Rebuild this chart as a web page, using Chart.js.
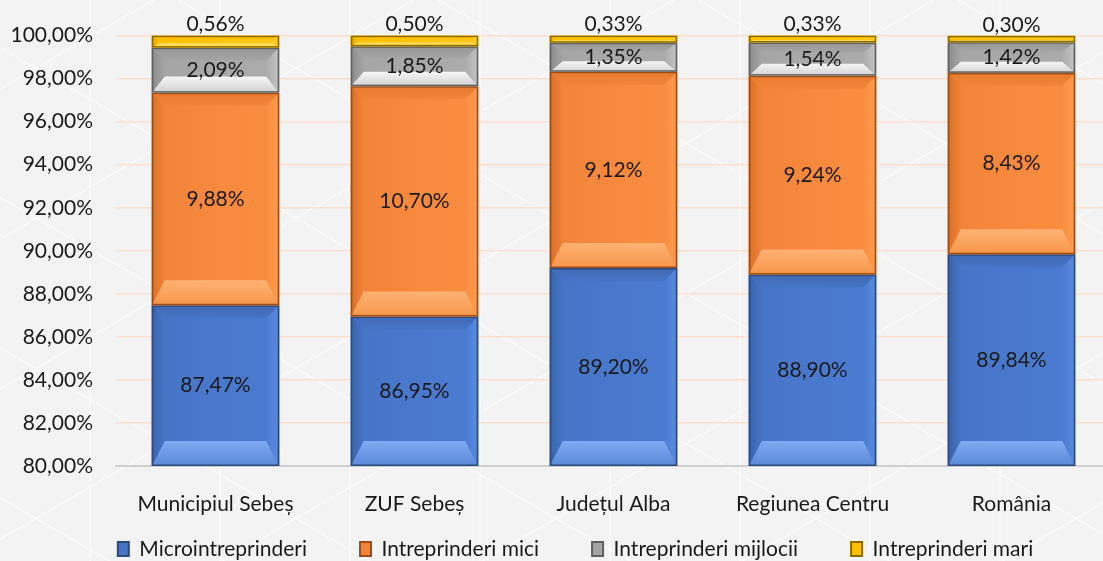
<!DOCTYPE html>
<html>
<head>
<meta charset="utf-8">
<script src="https://cdn.jsdelivr.net/npm/chart.js@4"></script>
<style>
  html, body { margin: 0; padding: 0; overflow: hidden; background: #f3f3f3; }
  #wrap { width: 1112px; height: 600px; }
</style>
</head>
<body>
<div id="wrap"><canvas id="chart"></canvas></div>
<script>
const categories = ['Municipiul Sebeș', 'ZUF Sebeș', 'Județul Alba', 'Regiunea Centru', 'România'];
const micro = [87.47, 86.95, 89.20, 88.90, 89.84];
const mici = [9.88, 10.70, 9.12, 9.24, 8.43];
const mijlocii = [2.09, 1.85, 1.35, 1.54, 1.42];
const mari = [0.56, 0.50, 0.33, 0.33, 0.30];
const seriesNames = ['Microintreprinderi', 'Intreprinderi mici', 'Intreprinderi mijlocii', 'Intreprinderi mari'];

const FONT = 'Lato, "Open Sans", sans-serif';
const FSIZE = 21;
const LEGEND_PAD = 53;

// bevel palettes per series
const palettes = [
    { face: '#4674c6', face2: '#4b7cd3', top: '#4169b4', botLight: '#80aaf2', bot: '#5a88d8', left: '#3a62ab', right: '#5b8bdf', edge: '#2b4b80' },
    { face: '#f2843a', face2: '#fa8e40', top: '#e87a2e', botLight: '#ffb273', bot: '#f6964b', left: '#d96f25', right: '#ff9b50', edge: '#9b4d15' },
    { face: '#a5a5a5', face2: '#acacac', top: '#969696', botLight: '#f6f6f6', bot: '#d2d2d2', left: '#8a8a8a', right: '#c4c4c4', edge: '#606060' },
    { face: '#ffc000', face2: '#ffc81a', top: '#eeae00', botLight: '#ffe066', bot: '#ffd23a', left: '#d9a300', right: '#ffd030', edge: '#8a6a00' }
];

function fmt(v) {
    return v.toFixed(2).replace('.', ',') + '%';
}

function poly(ctx, pts, fill) {
    ctx.beginPath();
    ctx.moveTo(pts[0][0], pts[0][1]);
    for (let i = 1; i < pts.length; i++) ctx.lineTo(pts[i][0], pts[i][1]);
    ctx.closePath();
    ctx.fillStyle = fill;
    ctx.fill();
}

function bevel(ctx, l, t, r, b, p) {
    const h = b - t, w = r - l;
    if (h <= 0) return;
    const dt = Math.min(13, h * 0.3);
    const db = Math.min(25, h * 0.36);
    const ds = Math.min(13, w * 0.1, h * 0.6);
    const il = l + ds, ir = r - ds, it = t + dt, ib = b - db;

    const g = ctx.createLinearGradient(l, 0, r, 0);
    g.addColorStop(0, p.face);
    g.addColorStop(1, p.face2);
    ctx.fillStyle = g;
    ctx.fillRect(l, t, w, h);

    const gt = ctx.createLinearGradient(0, t, 0, it);
    gt.addColorStop(0, p.top);
    gt.addColorStop(1, p.face);
    poly(ctx, [[l, t], [r, t], [ir, it], [il, it]], gt);
    const gb = ctx.createLinearGradient(0, ib, 0, b);
    gb.addColorStop(0, p.botLight);
    gb.addColorStop(1, p.bot);
    poly(ctx, [[l, b], [r, b], [ir, ib], [il, ib]], gb);
    const gl = ctx.createLinearGradient(l, 0, il, 0);
    gl.addColorStop(0, p.left);
    gl.addColorStop(1, p.face);
    poly(ctx, [[l, t], [il, it], [il, ib], [l, b]], gl);
    const gr = ctx.createLinearGradient(ir, 0, r, 0);
    gr.addColorStop(0, p.face2);
    gr.addColorStop(1, p.right);
    poly(ctx, [[r, t], [ir, it], [ir, ib], [r, b]], gr);

    ctx.strokeStyle = p.edge;
    ctx.lineWidth = 1.5;
    ctx.strokeRect(l + 0.75, t + 0.75, w - 1.5, h - 1.5);
}

const backgroundPattern = {
    id: 'backgroundPattern',
    beforeDraw(chart) {
        const ctx = chart.ctx, W = chart.width, H = chart.height;
        ctx.save();
        ctx.fillStyle = '#f3f3f3';
        ctx.fillRect(0, 0, W, H);
        ctx.strokeStyle = 'rgba(255,255,255,0.7)';
        ctx.lineWidth = 1.5;
        const s = 130, k = Math.tan(Math.PI / 6);
        ctx.beginPath();
        for (let x = -40; x < W; x += s) { ctx.moveTo(x, 0); ctx.lineTo(x, H); }
        for (let c = -W; c < W + H; c += s * k * 2) {
            ctx.moveTo(0, c); ctx.lineTo(W, c - W * k);
            ctx.moveTo(0, c - W * k); ctx.lineTo(W, c);
        }
        ctx.stroke();
        ctx.restore();
    }
};

// the legend in the original sits a little right of centre and close under the labels
const legendShift = {
    id: 'legendShift',
    afterLayout(chart) {
        const lg = chart.legend;
        const h = lg.bottom - lg.top;
        lg.left += 20;
        lg.right += 20;
        lg.top = 549 - LEGEND_PAD - FSIZE / 2;
        lg.bottom = lg.top + h;
    }
};

const bevelBars = {
    id: 'bevelBars',
    afterDatasetsDraw(chart) {
        const ctx = chart.ctx, area = chart.chartArea;
        const visible = bar => {
            const t = Math.max(Math.min(bar.y, bar.base), area.top);
            const b = Math.min(Math.max(bar.y, bar.base), area.bottom);
            return [t, b];
        };
        ctx.save();
        ctx.beginPath();
        ctx.rect(area.left, area.top, area.right - area.left, area.bottom - area.top);
        ctx.clip();
        chart.data.datasets.forEach((ds, i) => {
            chart.getDatasetMeta(i).data.forEach(bar => {
                const [t, b] = visible(bar);
                bevel(ctx, bar.x - bar.width / 2, t, bar.x + bar.width / 2, b, palettes[i]);
            });
        });
        ctx.restore();

        // value labels
        ctx.save();
        ctx.fillStyle = '#1a1a1a';
        ctx.font = FSIZE + 'px ' + FONT;
        ctx.textAlign = 'center';
        ctx.textBaseline = 'middle';
        chart.data.datasets.forEach((ds, i) => {
            chart.getDatasetMeta(i).data.forEach((bar, j) => {
                const [t, b] = visible(bar);
                const y = i === 3 ? t - 11 : (t + b) / 2;
                ctx.fillText(fmt(ds.data[j]), bar.x, y);
            });
        });
        ctx.restore();
    }
};

const seriesData = [micro, mici, mijlocii, mari];

new Chart(document.getElementById('chart'), {
    type: 'bar',
    data: {
        labels: categories,
        datasets: seriesData.map((d, i) => ({
            label: seriesNames[i],
            data: d,
            backgroundColor: palettes[i].face,
            borderWidth: 0,
            barPercentage: 0.64,
            categoryPercentage: 1
        }))
    },
    options: {
        responsive: true,
        maintainAspectRatio: false,
        animation: false,
        layout: { padding: { top: 35, right: 1, left: 0, bottom: 0 } },
        plugins: {
            tooltip: { enabled: false },
            legend: {
                position: 'bottom',
                labels: {
                    font: { family: FONT, size: FSIZE },
                    color: '#1a1a1a',
                    boxWidth: 11,
                    boxHeight: 14,
                    padding: LEGEND_PAD,
                    generateLabels(chart) {
                        return chart.data.datasets.map((ds, i) => ({
                            text: ds.label,
                            fillStyle: palettes[i].face,
                            strokeStyle: palettes[i].edge,
                            lineWidth: 2,
                            fontColor: '#1a1a1a',
                            datasetIndex: i
                        }));
                    }
                }
            }
        },
        scales: {
            x: {
                stacked: true,
                grid: { display: false },
                border: { display: true, color: '#d0d0d0', width: 2 },
                ticks: { font: { family: FONT, size: FSIZE }, color: '#1a1a1a', padding: 18 },
                afterFit(scale) { scale.height = 50; }
            },
            y: {
                stacked: true,
                min: 80,
                max: 100,
                ticks: {
                    stepSize: 2,
                    padding: 23,
                    font: { family: FONT, size: FSIZE },
                    color: '#1a1a1a',
                    callback: v => fmt(v)
                },
                grid: {
                    color: ctx => ctx.tick && ctx.tick.value === 80 ? 'rgba(0,0,0,0)' : '#fce0cc',
                    lineWidth: 1.5,
                    drawTicks: false
                },
                border: { display: false },
                afterFit(scale) { scale.width = 116; }
            }
        }
    },
    plugins: [backgroundPattern, legendShift, bevelBars]
});
</script>
</body>
</html>
